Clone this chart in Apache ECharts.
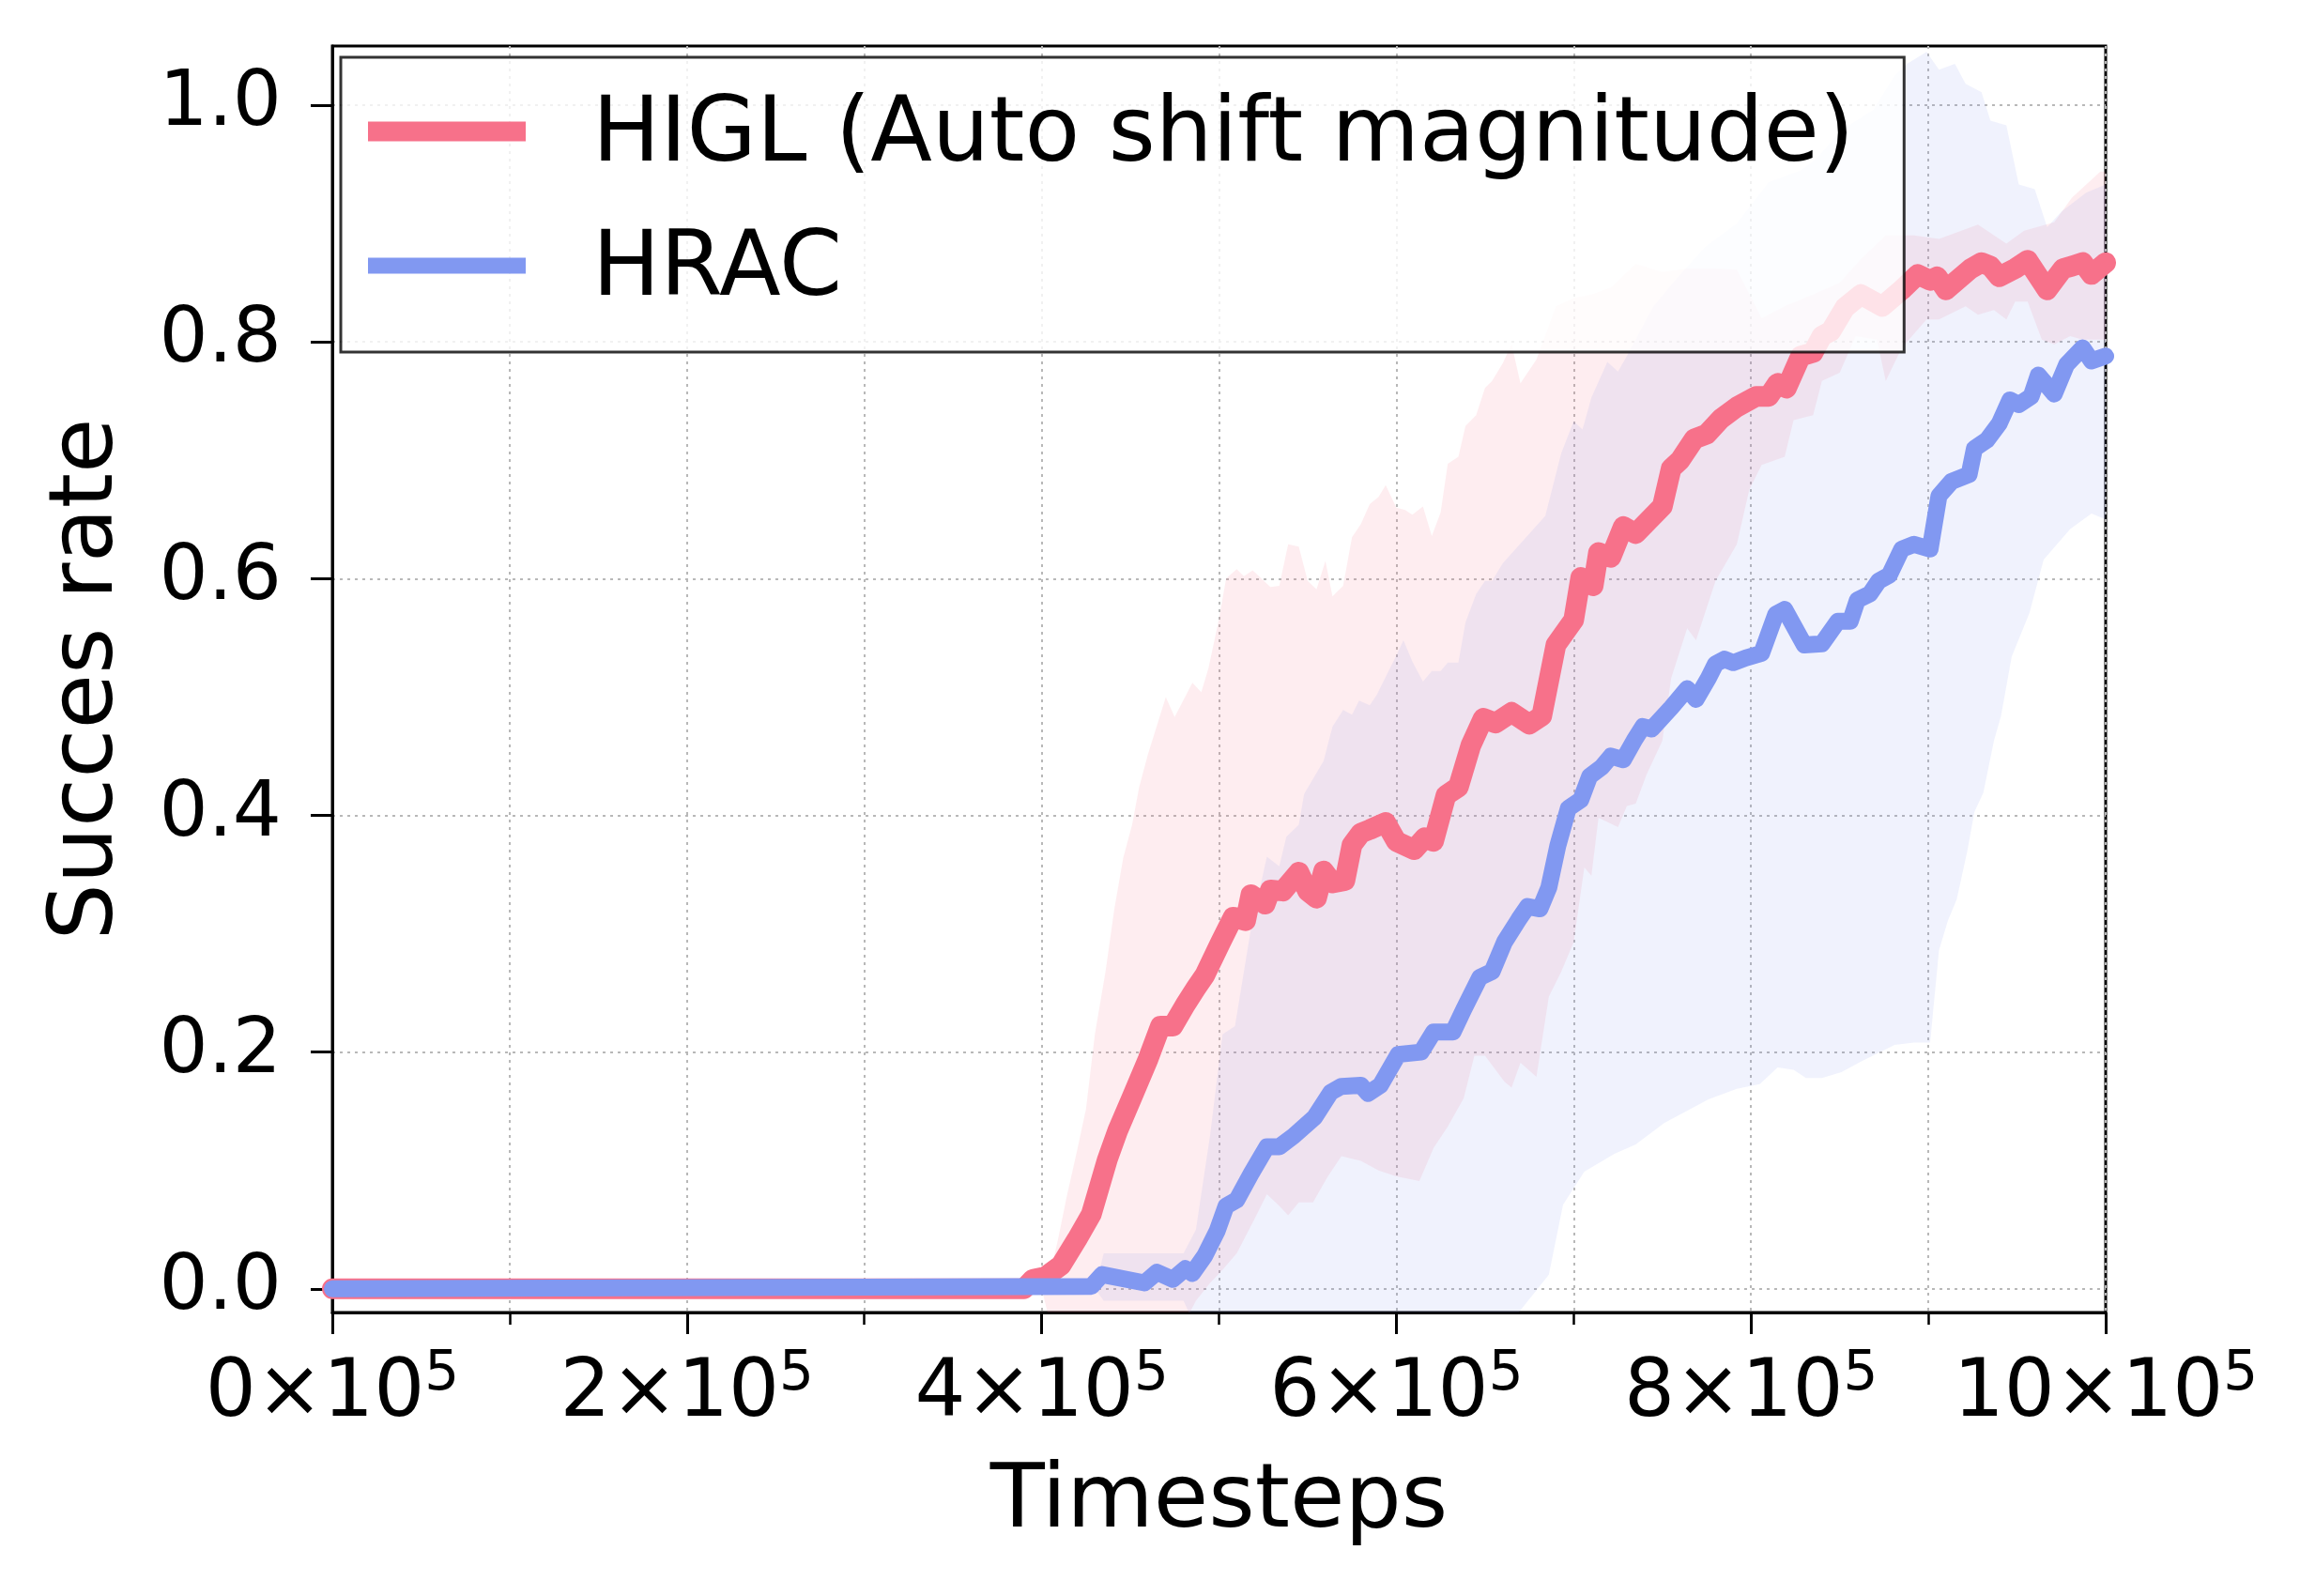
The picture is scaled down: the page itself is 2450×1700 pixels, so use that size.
<!DOCTYPE html>
<html><head><meta charset="utf-8">
<script src="https://cdn.jsdelivr.net/npm/echarts@6/dist/echarts.min.js"></script>
<style>html,body{margin:0;padding:0;background:#fff}#c{width:2450px;height:1700px}</style>
</head><body><div id="c"></div>
<script>
const seriesNames = ['HIGL (Auto shift magnitude)', 'HRAC'];
const yTicks = [0, 0.2, 0.4, 0.6, 0.8, 1.0];

// HIGL mean curve
const higlT = [0,390e3,395e3,402e3,411e3,420e3,428e3,437e3,443e3,451e3,460e3,467e3,474e3,481e3,487e3,492e3,501e3,508e3,515e3,518e3,526e3,529e3,536e3,545e3,550e3,555e3,559e3,564e3,571e3,575e3,580e3,585e3,594e3,600e3,610e3,616e3,621e3,628e3,635e3,642e3,649e3,656e3,665e3,675e3,682e3,690e3,700e3,704e3,711e3,714e3,721e3,728e3,735e3,750e3,755e3,760e3,768e3,775e3,783e3,792e3,803e3,810e3,815e3,820e3,828e3,835e3,840e3,845e3,853e3,862e3,874e3,885e3,894e3,901e3,905e3,910e3,924e3,930e3,935e3,940e3,949e3,956e3,967e3,976e3,981e3,987e3,992e3,1000e3];
const higlMean = [0,0,0.008,0.01,0.02,0.042,0.063,0.109,0.134,0.162,0.194,0.222,0.222,0.24,0.254,0.265,0.293,0.314,0.311,0.333,0.325,0.337,0.336,0.352,0.336,0.33,0.353,0.343,0.345,0.375,0.385,0.388,0.394,0.378,0.371,0.381,0.378,0.417,0.424,0.459,0.482,0.478,0.487,0.477,0.484,0.544,0.565,0.601,0.594,0.622,0.618,0.644,0.638,0.661,0.693,0.70,0.718,0.722,0.735,0.745,0.754,0.754,0.765,0.761,0.788,0.791,0.805,0.809,0.829,0.84,0.83,0.844,0.857,0.852,0.855,0.844,0.862,0.867,0.864,0.855,0.862,0.869,0.844,0.862,0.864,0.867,0.857,0.867];

// HRAC mean curve
const hracT = [0,428e3,434e3,458e3,465e3,474e3,481e3,485e3,492e3,499e3,504e3,510e3,518e3,527e3,534e3,542e3,554e3,563e3,569e3,580e3,584e3,591e3,601e3,614e3,621e3,632e3,638e3,647e3,654e3,661e3,669e3,674e3,681e3,686e3,691e3,697e3,704e3,709e3,716e3,721e3,728e3,734e3,739e3,744e3,755e3,764e3,769e3,776e3,780e3,785e3,790e3,797e3,806e3,814e3,819e3,830e3,840e3,849e3,856e3,860e3,867e3,872e3,878e3,885e3,892e3,901e3,906e3,913e3,923e3,926e3,933e3,940e3,946e3,951e3,958e3,962e3,971e3,978e3,987e3,992e3,1000e3];
const hracMean = [0,0.002,0.012,0.005,0.014,0.008,0.017,0.013,0.028,0.049,0.07,0.075,0.097,0.12,0.12,0.129,0.145,0.166,0.171,0.172,0.165,0.172,0.198,0.2,0.217,0.217,0.236,0.263,0.268,0.293,0.312,0.323,0.321,0.339,0.374,0.406,0.413,0.433,0.441,0.45,0.447,0.463,0.475,0.473,0.491,0.507,0.498,0.516,0.528,0.532,0.529,0.533,0.537,0.57,0.574,0.544,0.545,0.564,0.564,0.582,0.587,0.598,0.603,0.625,0.629,0.625,0.67,0.682,0.688,0.71,0.717,0.731,0.751,0.747,0.754,0.772,0.756,0.781,0.795,0.784,0.788];

// HIGL band
const higlUpT = [0,400e3,405e3,409e3,414e3,420e3,425e3,430e3,436e3,441e3,446e3,451e3,455e3,460e3,470e3,475e3,485e3,490e3,494e3,500e3,504e3,510e3,514e3,519e3,529e3,534e3,539e3,545e3,550e3,555e3,560e3,564e3,570e3,575e3,580e3,585e3,590e3,594e3,600e3,605e3,609e3,615e3,620e3,625e3,629e3,635e3,639e3,645e3,650e3,654e3,660e3,665e3,670e3,679e3,690e3,700e3,710e3,721e3,735e3,750e3,764e3,780e3,792e3,806e3,819e3,835e3,850e3,862e3,876e3,892e3,906e3,928e3,944e3,954e3,971e3,981e3,997e3,1000e3];
const higlUpV = [0,0,0.015,0.04,0.077,0.117,0.152,0.215,0.268,0.321,0.364,0.392,0.424,0.452,0.5,0.483,0.512,0.504,0.524,0.566,0.6,0.608,0.602,0.607,0.593,0.594,0.629,0.627,0.598,0.591,0.615,0.585,0.594,0.635,0.646,0.663,0.669,0.679,0.66,0.658,0.654,0.661,0.636,0.656,0.697,0.703,0.729,0.738,0.761,0.767,0.782,0.798,0.765,0.785,0.83,0.837,0.84,0.846,0.866,0.859,0.862,0.862,0.861,0.82,0.83,0.84,0.85,0.87,0.89,0.89,0.887,0.899,0.883,0.894,0.901,0.922,0.944,0.944];
const higlLoT = [0,400e3,405e3,410e3,470e3,480e3,487e3,495e3,502e3,510e3,520e3,527e3,534e3,539e3,545e3,553e3,561e3,569e3,580e3,590e3,600e3,613e3,621e3,629e3,638e3,644e3,650e3,661e3,665e3,670e3,679e3,686e3,693e3,700e3,706e3,710e3,714e3,725e3,730e3,735e3,741e3,750e3,755e3,764e3,769e3,780e3,792e3,799e3,806e3,819e3,824e3,835e3,840e3,850e3,859e3,871e3,876e3,885e3,899e3,906e3,921e3,928e3,937e3,944e3,949e3,956e3,964e3,971e3,980e3,987e3,1000e3];
const higlLoV = [0,0,-0.03,-0.05,-0.06,-0.03,-0.01,0.005,0.016,0.03,0.059,0.08,0.07,0.062,0.073,0.073,0.094,0.112,0.108,0.1,0.095,0.091,0.119,0.137,0.161,0.197,0.197,0.175,0.17,0.191,0.179,0.247,0.268,0.293,0.356,0.349,0.398,0.39,0.408,0.41,0.434,0.463,0.516,0.558,0.548,0.598,0.629,0.675,0.696,0.703,0.734,0.738,0.767,0.774,0.805,0.802,0.767,0.795,0.819,0.819,0.83,0.823,0.827,0.819,0.834,0.834,0.802,0.798,0.805,0.802,0.802];

// HRAC band
const hracUpT = [0,430e3,435e3,480e3,487e3,495e3,502e3,509e3,518e3,527e3,534e3,538e3,545e3,548e3,559e3,564e3,570e3,575e3,579e3,585e3,589e3,594e3,600e3,604e3,609e3,615e3,620e3,625e3,629e3,635e3,639e3,645e3,650e3,654e3,660e3,684e3,693e3,700e3,705e3,710e3,719e3,725e3,730e3,745e3,756e3,774e3,792e3,810e3,828e3,837e3,851e3,869e3,881e3,888e3,899e3,906e3,915e3,921e3,930e3,935e3,944e3,951e3,960e3,967e3,975e3,989e3,1000e3];
const hracUpV = [0,0,0.03,0.03,0.05,0.13,0.215,0.222,0.304,0.365,0.357,0.382,0.392,0.418,0.446,0.475,0.489,0.485,0.497,0.493,0.502,0.517,0.535,0.548,0.53,0.513,0.522,0.522,0.529,0.529,0.563,0.587,0.598,0.598,0.613,0.653,0.706,0.733,0.726,0.753,0.783,0.775,0.788,0.83,0.85,0.88,0.9,0.935,0.945,0.955,0.979,0.996,1.025,1.035,1.045,1.03,1.035,1.018,1.011,0.987,0.983,0.933,0.929,0.897,0.91,0.926,0.933];
const hracLoT = [0,430e3,435e3,480e3,486e3,492e3,660e3,669e3,686e3,694e3,706e3,723e3,735e3,751e3,776e3,792e3,805e3,815e3,824e3,831e3,840e3,851e3,862e3,881e3,892e3,901e3,906e3,911e3,916e3,922e3,926e3,931e3,937e3,941e3,947e3,957e3,965e3,980e3,992e3,1000e3];
const hracLoV = [0,0,-0.01,-0.01,-0.03,-0.06,-0.06,-0.02,0.012,0.071,0.099,0.114,0.122,0.14,0.16,0.169,0.173,0.187,0.185,0.178,0.178,0.183,0.192,0.206,0.208,0.208,0.286,0.311,0.329,0.37,0.403,0.419,0.463,0.484,0.534,0.571,0.616,0.642,0.655,0.65];

const RED = '#f7718a', BLUE = '#8198f1';
const RED_BAND = 'rgba(247,113,138,0.13)', BLUE_BAND = 'rgba(129,152,241,0.12)';
const FONT = 'DejaVu Sans';

function zip(a, b) { return a.map((t, i) => [t, b[i]]); }

function bandSeries(name, upT, upV, loT, loV, color) {
  return {
    type: 'custom', name: name, clip: true, silent: true, z: 1,
    data: [[upT[0], upV[0]]],
    encode: {x: 0, y: 1},
    renderItem: function (params, api) {
      const pts = [];
      for (let i = 0; i < upT.length; i++) pts.push(api.coord([upT[i], upV[i]]));
      for (let i = loT.length - 1; i >= 0; i--) pts.push(api.coord([loT[i], loV[i]]));
      return {type: 'polygon', shape: {points: pts}, style: {fill: color, stroke: null}};
    }
  };
}

const gridLine = {show: true, lineStyle: {color: '#b8b8b8', width: 2, type: [3, 5]}};

const chart = echarts.init(document.getElementById('c'), null, {renderer: 'canvas'});
chart.setOption({
  backgroundColor: '#ffffff',
  animation: false,
  textStyle: {fontFamily: FONT},
  grid: {left: 354, top: 49, right: 207, bottom: 302, show: true, borderColor: '#000', borderWidth: 3,
         backgroundColor: 'transparent', containLabel: false, outerBoundsMode: 'none'},
  legend: {
    show: true, orient: 'vertical', left: 363, top: 61,
    padding: [30, 53, 31, 29],
    itemWidth: 168, itemHeight: 33, itemGap: 33,
    backgroundColor: 'rgba(255,255,255,0.8)', borderColor: 'rgba(0,0,0,0.8)', borderWidth: 3, borderRadius: 0,
    textStyle: {fontSize: 96, color: '#000', fontFamily: FONT, lineHeight: 110, padding: [0, 0, 0, 66]},
    selectedMode: false,
    data: [
      {name: seriesNames[0], icon: 'path://M0,0L168,0L168,21L0,21ZM0,33L0,33'},
      {name: seriesNames[1], icon: 'path://M0,0L0,0M0,2L168,2L168,19L0,19ZM0,33L0,33'}
    ]
  },
  xAxis: {
    type: 'value', min: 0, max: 1e6, interval: 2e5,
    name: 'Timesteps', nameLocation: 'middle', nameGap: 156,
    nameTextStyle: {fontSize: 95, color: '#000', fontFamily: FONT},
    axisLine: {show: true, onZero: false, lineStyle: {color: '#000', width: 3}},
    axisTick: {show: true, length: 23, inside: false, lineStyle: {color: '#000', width: 3}},
    minorTick: {show: true, splitNumber: 2, length: 13, lineStyle: {color: '#000', width: 2.5}},
    axisLabel: {
      margin: 38, color: '#000', showMinLabel: true, showMaxLabel: true,
      formatter: function (v) { return '{m|' + Math.round(v / 1e5) + '×10}{s|5}'; },
      rich: {
        m: {fontSize: 85, fontFamily: FONT, color: '#000', lineHeight: 100},
        s: {fontSize: 58, fontFamily: FONT, color: '#000', verticalAlign: 'top', lineHeight: 60}
      }
    },
    splitLine: gridLine,
    minorSplitLine: gridLine
  },
  yAxis: {
    type: 'value', min: -0.02, max: 1.05, splitNumber: 5,
    name: 'Succes rate', nameLocation: 'middle', nameGap: 212,
    nameTextStyle: {fontSize: 95, color: '#000', fontFamily: FONT},
    axisLine: {show: true, onZero: false, lineStyle: {color: '#000', width: 3}},
    axisTick: {show: true, length: 23, inside: false, customValues: yTicks, lineStyle: {color: '#000', width: 3}},
    axisLabel: {fontSize: 82, color: '#000', fontFamily: FONT, margin: 54, customValues: yTicks,
                formatter: function (v) { return v.toFixed(1); }},
    splitLine: gridLine
  },
  series: [
    bandSeries('higlBand', higlUpT, higlUpV, higlLoT, higlLoV, RED_BAND),
    bandSeries('hracBand', hracUpT, hracUpV, hracLoT, hracLoV, BLUE_BAND),
    {type: 'line', name: seriesNames[0], data: zip(higlT, higlMean), showSymbol: false, symbol: 'none',
     color: RED, lineStyle: {color: RED, width: 22, cap: 'round', join: 'round'}, z: 3},
    {type: 'line', name: seriesNames[1], data: zip(hracT, hracMean), showSymbol: false, symbol: 'none',
     color: BLUE, lineStyle: {color: BLUE, width: 18, cap: 'round', join: 'round'}, z: 4}
  ]
});
</script>
</body></html>
